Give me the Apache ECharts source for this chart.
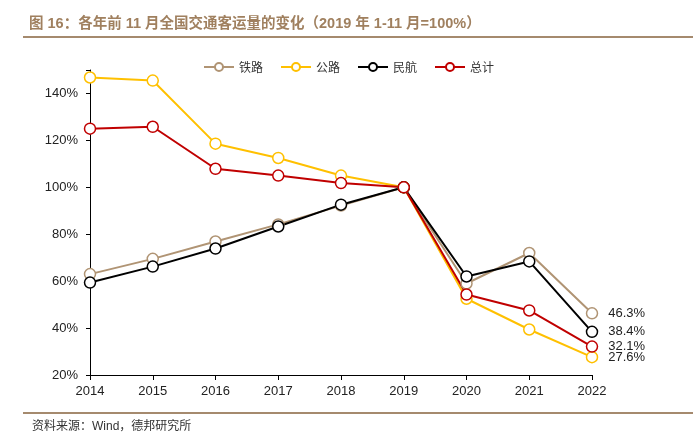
<!DOCTYPE html>
<html><head><meta charset="utf-8">
<script src="https://cdn.jsdelivr.net/npm/echarts@6/dist/echarts.min.js"></script>
<style>html,body{margin:0;padding:0;background:#fff}#c{width:697px;height:443px}</style>
</head><body><div id="c"></div>
<script>
var years = ['2014','2015','2016','2017','2018','2019','2020','2021','2022'];
var rail = [63.0, 69.5, 76.9, 84.2, 92.2, 100, 59.0, 72.0, 46.3];
var road = [146.8, 145.5, 118.6, 112.5, 105.0, 100, 52.5, 39.4, 27.6];
var air = [59.4, 66.2, 73.9, 83.3, 92.6, 100, 62.0, 68.4, 38.4];
var total = [125.0, 125.8, 107.9, 105.0, 101.8, 100, 54.3, 47.5, 32.1];
var seriesNames = ['铁路','公路','民航','总计'];
var colors = ['#b09474','#ffc000','#000000','#c00000'];
var titleText = '图 16：各年前 11 月全国交通客运量的变化（2019 年 1-11 月=100%）';
var sourceText = '资料来源：Wind，德邦研究所';

var chart = echarts.init(document.getElementById('c'));
function mk(name, data, color){
  return {
    name: name, type: 'line', data: data,
    symbol: 'circle', symbolSize: 11,
    itemStyle: {color: '#fff', borderColor: color, borderWidth: 1.5},
    lineStyle: {color: color, width: 2},
    label: {show: true, position: 'right', distance: 10, fontSize: 13, color: '#222',
      fontFamily: 'Liberation Sans, Arial, sans-serif',
      formatter: function(p){ return p.dataIndex === data.length-1 ? data[p.dataIndex].toFixed(1)+'%' : ''; }},
    z: 2
  };
}
chart.setOption({
  animation: false,
  color: colors,
  title: {text: titleText, left: 24, top: 12,
    textStyle: {fontSize: 14.5, fontWeight: 'bold', color: '#a0805f', fontFamily: 'Liberation Sans, Noto Sans CJK SC, sans-serif'}},
  graphic: [
    {type: 'line', shape: {x1: 23, y1: 37, x2: 693, y2: 37}, style: {stroke: '#a58a6e', lineWidth: 2}},
    {type: 'line', shape: {x1: 23, y1: 413, x2: 693, y2: 413}, style: {stroke: '#a58a6e', lineWidth: 2}},
    {type: 'text', left: 32, top: 421, style: {text: sourceText, fontSize: 12, fill: '#333', fontFamily: 'Liberation Sans, Noto Sans CJK SC, sans-serif'}}
  ],
  legend: {data: seriesNames, top: 56, left: 'center', itemWidth: 30, itemHeight: 10, itemGap: 17,
    textStyle: {fontSize: 12, color: '#333', fontFamily: 'Noto Sans CJK SC, sans-serif'}},
  grid: {left: 90, right: 105, top: 70, bottom: 68},
  xAxis: {type: 'category', data: years, boundaryGap: false,
    axisLine: {lineStyle: {color: '#000', width: 1}},
    axisTick: {show: true, alignWithLabel: true, length: 5, lineStyle: {color: '#000'}},
    axisLabel: {fontSize: 13, color: '#222', margin: 10, fontFamily: 'Liberation Sans, Arial, sans-serif'}},
  yAxis: {type: 'value', min: 20, max: 150, interval: 20,
    splitLine: {show: false},
    axisLine: {show: true, lineStyle: {color: '#000', width: 1}},
    axisTick: {show: true, length: 4, lineStyle: {color: '#000'}},
    axisLabel: {fontSize: 13, color: '#222', margin: 12, fontFamily: 'Liberation Sans, Arial, sans-serif',
      formatter: function(v){ return v > 140 ? '' : v + '%'; }}},
  series: [mk(seriesNames[0], rail, colors[0]), mk(seriesNames[1], road, colors[1]), mk(seriesNames[2], air, colors[2]), mk(seriesNames[3], total, colors[3])]
});
</script></body></html>
